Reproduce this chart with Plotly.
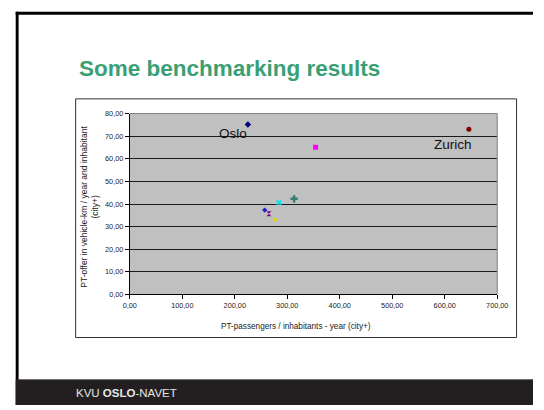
import plotly.graph_objects as go

W, H = 544, 410

# Public transport benchmark: passengers per inhabitant vs. vehicle-km offered
city_labels = ["Oslo", "", "", "", "", "Zurich", "", ""]
passengers_per_inhabitant = [225, 354, 277, 284, 265, 646, 313, 257]
vehicle_km_per_inhabitant = [75.2, 65.1, 33.2, 40.6, 35.7, 73.0, 42.3, 37.3]

x_ticks = [0, 100, 200, 300, 400, 500, 600, 700]
y_ticks = [0, 10, 20, 30, 40, 50, 60, 70, 80]

# Excel-style default marker sequence
symbols = ["diamond", "square", "triangle-up", "x", "hourglass", "circle", "cross", "diamond"]
colors = ["#000080", "#FF00FF", "#E8D800", "#00E5EE", "#800080", "#800000", "#2E7D6E", "#2020C0"]
sizes = [5, 5, 5, 5, 5, 5, 6, 4]

FONT = "Arial, Liberation Sans, sans-serif"


def px_x(p):
    return p / W


def px_y(p):
    return 1 - p / H


fig = go.Figure()

for i in range(len(passengers_per_inhabitant)):
    fig.add_trace(go.Scatter(
        x=[passengers_per_inhabitant[i]],
        y=[vehicle_km_per_inhabitant[i]],
        mode="markers",
        marker=dict(symbol=symbols[i], color=colors[i], size=sizes[i],
                    line=dict(width=0)),
        name=city_labels[i] or f"city {i + 1}",
        showlegend=False,
        hoverinfo="x+y",
    ))

plot_left, plot_right, plot_top, plot_bottom = 127, 507, 112, 297

fig.update_layout(
    width=W, height=H,
    margin=dict(l=0, r=0, t=0, b=0),
    paper_bgcolor="white",
    plot_bgcolor="#C0C0C0",
    separators=", ",
    font=dict(family=FONT, color="#222222"),
    xaxis=dict(
        domain=[px_x(plot_left), px_x(plot_right)],
        range=[0, 700], tickvals=x_ticks, tickformat=".2f",
        showgrid=False, zeroline=False,
        showline=True, linecolor="black", linewidth=1,
        ticks="outside", ticklen=4, tickcolor="black",
        tickfont=dict(size=7.3, family=FONT, color="#222222"),
        fixedrange=True,
    ),
    yaxis=dict(
        domain=[px_y(plot_bottom), px_y(plot_top)],
        range=[0, 80], tickvals=y_ticks, tickformat=".2f",
        showgrid=True, gridcolor="#1a1a1a", gridwidth=1,
        zeroline=False,
        showline=True, linecolor="black", linewidth=1,
        ticks="outside", ticklen=4, tickcolor="black",
        tickfont=dict(size=7.3, family=FONT, color="#222222"),
        fixedrange=True,
    ),
)

shapes = []
# slide frame: left and top black borders
shapes.append(dict(type="rect", xref="paper", yref="paper",
                   x0=px_x(9), x1=px_x(12), y0=0, y1=px_y(8),
                   fillcolor="black", line=dict(width=0)))
shapes.append(dict(type="rect", xref="paper", yref="paper",
                   x0=px_x(9), x1=1, y0=px_y(11), y1=px_y(8),
                   fillcolor="black", line=dict(width=0)))
# footer band
shapes.append(dict(type="rect", xref="paper", yref="paper",
                   x0=px_x(9), x1=1, y0=0, y1=px_y(384),
                   fillcolor="#231F20", line=dict(width=0)))
shapes.append(dict(type="line", xref="paper", yref="paper",
                   x0=px_x(12), x1=1, y0=px_y(384), y1=px_y(384),
                   line=dict(color="#6a6a6a", width=1)))
# chart box
shapes.append(dict(type="rect", xref="paper", yref="paper",
                   x0=px_x(71), x1=px_x(527), y0=px_y(341), y1=px_y(97),
                   line=dict(color="#303030", width=1), layer="below"))
# plot area border (top and right)
shapes.append(dict(type="line", xref="x domain", yref="y domain",
                   x0=0, x1=1, y0=1, y1=1, line=dict(color="#808080", width=1)))
shapes.append(dict(type="line", xref="x domain", yref="y domain",
                   x0=1, x1=1, y0=0, y1=1, line=dict(color="#808080", width=1)))
fig.update_layout(shapes=shapes)

annotations = [
    dict(text="<b>Some benchmarking results</b>", xref="paper", yref="paper",
         x=px_x(72), y=px_y(66), xanchor="left", yanchor="middle",
         showarrow=False, font=dict(size=22.5, family=FONT, color="#3A9F74")),
    dict(text="Oslo", xref="x", yref="y", x=196, y=71.2,
         xanchor="center", yanchor="middle", showarrow=False,
         font=dict(size=13.5, family=FONT, color="#111111")),
    dict(text="Zurich", xref="x", yref="y", x=615, y=66.4,
         xanchor="center", yanchor="middle", showarrow=False,
         font=dict(size=13.5, family=FONT, color="#111111")),
    dict(text="PT-offer in vehicle-km / year and inhabitant<br>(city+)",
         xref="paper", yref="paper", x=px_x(85), y=px_y(207),
         xanchor="center", yanchor="middle", textangle=-90, showarrow=False,
         font=dict(size=8.5, family=FONT, color="#222222")),
    dict(text="PT-passengers / inhabitants - year (city+)",
         xref="paper", yref="paper", x=px_x(299), y=px_y(330),
         xanchor="center", yanchor="middle", showarrow=False,
         font=dict(size=8.2, family=FONT, color="#222222")),
    dict(text="KVU <b>OSLO</b>-NAVET", xref="paper", yref="paper",
         x=px_x(69), y=px_y(398), xanchor="left", yanchor="middle",
         showarrow=False, font=dict(size=11.5, family=FONT, color="#E6E6E6")),
]
fig.update_layout(annotations=annotations)

fig.write_html(
    "out.html",
    post_script="document.body.style.margin='0';document.body.style.overflow='hidden';",
)
